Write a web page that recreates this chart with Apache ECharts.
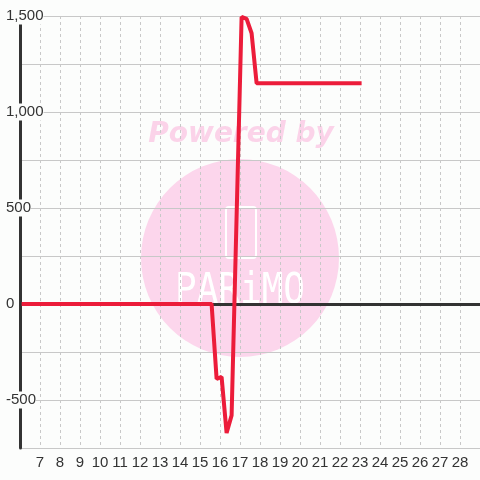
<!DOCTYPE html>
<html>
<head>
<meta charset="utf-8">
<script src="https://cdn.jsdelivr.net/npm/echarts@6/dist/echarts.min.js"></script>
<style>
    html, body { margin: 0; padding: 0; background: #fcfdfc; }
    #main { width: 480px; height: 480px; }
</style>
</head>
<body>
<div id="main"></div>
<script>
// x = hour of day, y = value
const hours = [6.08, 15.58, 15.83, 16.08, 16.33, 16.58, 17.08, 17.33, 17.58, 17.83, 23.08];
const values = [0, 0, -390, -380, -672, -580, 1495, 1485, 1410, 1150, 1150];
const yLabelSteps = [-500, 0, 500, 1000, 1500];

const seriesData = hours.map((h, i) => [h, values[i]]);

const chart = echarts.init(document.getElementById('main'));

const option = {
    backgroundColor: '#fcfdfc',
    animation: false,
    grid: { left: 20, right: 0, top: 16, bottom: 32 },
    graphic: {
        elements: [
            {
                type: 'circle',
                z: -1,
                shape: { cx: 240, cy: 258, r: 99 },
                style: { fill: '#fcd6ec' }
            },
            {
                type: 'text',
                z: -1,
                x: 241, y: 135,
                style: {
                    text: 'Powered by',
                    fontSize: 28,
                    fontWeight: 'bold',
                    fontStyle: 'italic',
                    fontFamily: 'DejaVu Sans',
                    fill: '#fbd3e9',
                    align: 'center',
                    verticalAlign: 'middle'
                }
            },
            {
                type: 'rect',
                z: -1,
                shape: { x: 226, y: 207, width: 30, height: 51, r: 3 },
                style: { fill: 'none', stroke: '#ffffff', lineWidth: 2 }
            },
            {
                type: 'text',
                z: -1,
                x: 240, y: 292,
                scaleY: 1.2,
                style: {
                    text: 'PARiMO',
                    fontSize: 36,
                    fontFamily: 'DejaVu Sans Mono',
                    fill: '#ffffff',
                    align: 'center',
                    verticalAlign: 'middle'
                }
            }
        ]
    },
    xAxis: {
        type: 'value',
        min: 6,
        max: 29,
        interval: 1,
        axisLine: { show: false },
        axisTick: { show: false },
        axisLabel: {
            showMinLabel: false,
            showMaxLabel: false,
            color: '#333',
            fontSize: 15,
            fontFamily: 'Liberation Sans',
            margin: 7
        },
        splitLine: { show: true, lineStyle: { color: '#c8c8c8', type: [3, 3], width: 1 } }
    },
    yAxis: {
        type: 'value',
        min: -750,
        max: 1500,
        interval: 250,
        axisLine: { show: true, lineStyle: { color: '#333', width: 3 } },
        axisTick: { show: false },
        axisLabel: {
            color: '#333',
            fontSize: 15,
            fontFamily: 'Liberation Sans',
            align: 'left',
            margin: 14,
            backgroundColor: '#fcfdfc',
            padding: [1, 0, 1, 0],
            formatter: v => yLabelSteps.includes(v) ? v.toLocaleString('en-US') : ''
        },
        splitLine: { show: true, lineStyle: { color: '#c8c8c8', width: 1 } }
    },
    series: [
        {
            // zero line, drawn under the data line
            type: 'line',
            data: [],
            z: 1,
            markLine: {
                silent: true,
                symbol: 'none',
                label: { show: false },
                lineStyle: { color: '#333', width: 3, type: 'solid' },
                data: [{ yAxis: 0 }]
            }
        },
        {
            type: 'line',
            data: seriesData,
            showSymbol: false,
            lineStyle: { color: '#ec1c3a', width: 4 },
            z: 5
        }
    ]
};

chart.setOption(option);
</script>
</body>
</html>
